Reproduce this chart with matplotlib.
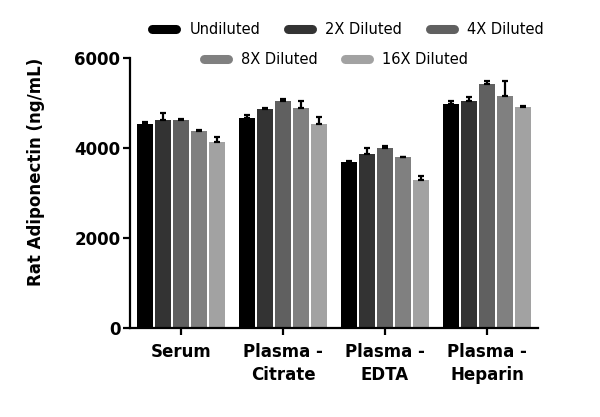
import matplotlib
matplotlib.use('Agg')
import matplotlib.pyplot as plt
from matplotlib.lines import Line2D
import numpy as np

plt.rcParams['font.family'] = ['DejaVu Sans']

groups = ['Serum', 'Plasma -\nCitrate', 'Plasma -\nEDTA', 'Plasma -\nHeparin']
series = ['Undiluted', '2X Diluted', '4X Diluted', '8X Diluted', '16X Diluted']
colors = ['#000000', '#333333', '#606060', '#808080', '#a2a2a2']

# mean values (ng/mL), one list per dilution, in group order
undiluted = [4540, 4670, 3700, 4980]
dil_2x = [4630, 4870, 3860, 5040]
dil_4x = [4620, 5050, 4010, 5430]
dil_8x = [4370, 4900, 3790, 5150]
dil_16x = [4140, 4530, 3290, 4920]

# upper error (SD)
err_undiluted = [40, 70, 15, 70]
err_2x = [140, 20, 130, 100]
err_4x = [30, 30, 40, 60]
err_8x = [20, 150, 20, 350]
err_16x = [100, 150, 80, 20]

values = [undiluted, dil_2x, dil_4x, dil_8x, dil_16x]
errors = [err_undiluted, err_2x, err_4x, err_8x, err_16x]

fig = plt.figure(figsize=(6, 4.17), dpi=100)
ax = fig.add_axes([130 / 600, 1 - 328 / 417, 408 / 600, 270 / 417])

x = np.arange(len(groups))
step = 0.176
width = 0.158
for i in range(len(series)):
    pos = x + (i - 2) * step
    v = np.array(values[i])
    e = np.array(errors[i])
    ax.bar(pos, v, width, color=colors[i], label=series[i], zorder=2)
    ax.errorbar(pos, v, yerr=[np.zeros_like(e), e], fmt='none', ecolor='black',
                elinewidth=1.6, capsize=2.2, capthick=1.6, zorder=3)

ax.set_xlim(-0.5, 3.5)
ax.set_ylim(0, 6000)
ax.set_yticks([0, 2000, 4000, 6000])
ax.set_xticks(x)
ax.set_xticklabels(groups, fontsize=12, fontweight='bold', linespacing=1.35)
for lbl in ax.get_yticklabels():
    lbl.set_fontsize(12)
    lbl.set_fontweight('bold')

for s in ['top', 'right']:
    ax.spines[s].set_visible(False)
for s in ['left', 'bottom']:
    ax.spines[s].set_linewidth(1.6)
ax.tick_params(axis='both', width=1.6, length=5, direction='out', pad=2)
ax.tick_params(axis='x', pad=6)

ax.set_ylabel('Rat Adiponectin (ng/mL)', fontsize=12, fontweight='bold')
ax.yaxis.set_label_coords(-0.208, 0.578)

handles = [Line2D([0], [0], color=c, lw=6.5, solid_capstyle='round') for c in colors]
leg_kw = dict(loc='center', frameon=False, fontsize=10.5, handlelength=1.64,
              handletextpad=0.9, columnspacing=1.9, borderpad=0)
leg1 = fig.legend(handles[:3], series[:3], bbox_to_anchor=(348 / 600, 1 - 30 / 417),
                  ncol=3, **leg_kw)
leg2 = fig.legend(handles[3:], series[3:], bbox_to_anchor=(336 / 600, 1 - 60 / 417),
                  ncol=2, **leg_kw)

fig.savefig('out.png', dpi=100)
